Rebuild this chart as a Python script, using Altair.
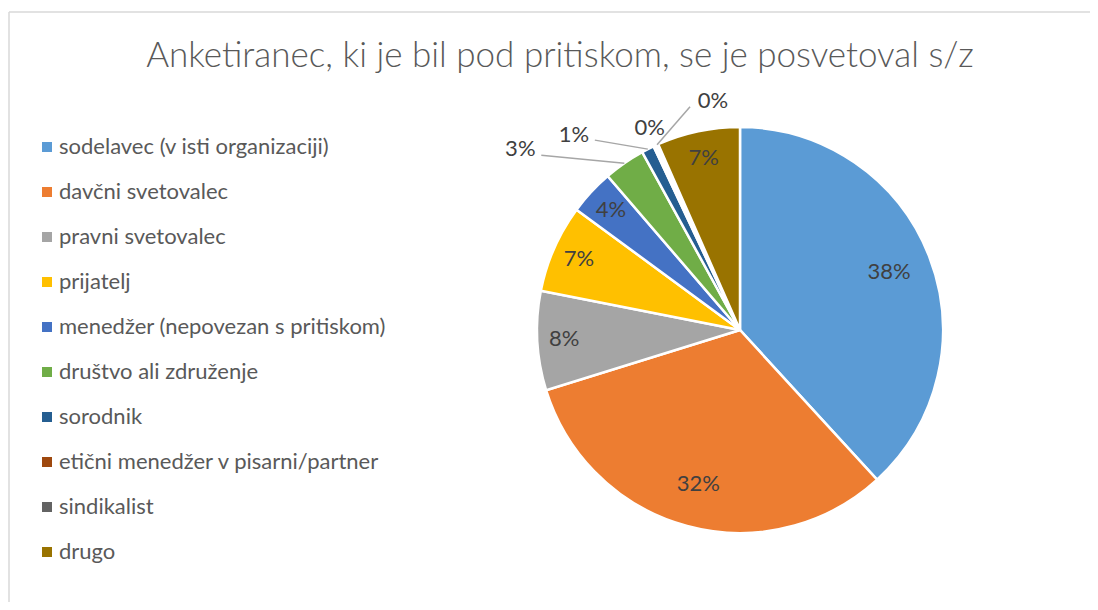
import altair as alt
import pandas as pd

# ---- data ----
categories = [
    "sodelavec (v isti organizaciji)",
    "davčni svetovalec",
    "pravni svetovalec",
    "prijatelj",
    "menedžer (nepovezan s pritiskom)",
    "društvo ali združenje",
    "sorodnik",
    "etični menedžer v pisarni/partner",
    "sindikalist",
    "drugo",
]
values = [38.2, 32.0, 7.9, 7.0, 3.6, 3.3, 1.0, 0.2, 0.2, 6.6]
colors = ["#5B9BD5", "#ED7D31", "#A5A5A5", "#FFC000", "#4472C4",
          "#70AD47", "#255E91", "#9E480E", "#636363", "#997300"]
title_text = "Anketiranec, ki je bil pod pritiskom, se je posvetoval s/z"

df = pd.DataFrame({"kategorija": categories, "vrednost": values,
                   "idx": list(range(len(categories)))})

FONT = "Lato"
W, H = 1081, 590
CX, CY, R = 731, 318, 203

base = (
    alt.Chart(df)
    .transform_joinaggregate(total="sum(vrednost)")
    .transform_window(cum="sum(vrednost)", sort=[alt.SortField("idx")], frame=[None, 0])
    .transform_calculate(share="datum.vrednost / datum.total")
    .transform_calculate(a1="2*PI*datum.cum/datum.total")
    .transform_calculate(a0="2*PI*(datum.cum - datum.vrednost)/datum.total")
    .transform_calculate(mid="(datum.a0 + datum.a1)/2")
    .transform_calculate(label="format(datum.share, '.0%')")
    .transform_calculate(outside="datum.share < 0.035")
    .transform_calculate(ex=f"{CX} + {R}*sin(datum.mid)")
    .transform_calculate(ey=f"{CY} - {R}*cos(datum.mid)")
    .transform_calculate(lr="datum.share >= 0.2 ? 160 : 176")
    .transform_calculate(ix=f"{CX} + datum.lr*sin(datum.mid)")
    .transform_calculate(iy=f"{CY} - datum.lr*cos(datum.mid)")
    .transform_calculate(
        ox="datum.ex + (datum.idx == 5 ? -104 : datum.idx == 6 ? -74 : datum.idx == 7 ? -5 : 56)")
    .transform_calculate(
        oy="datum.ey + (datum.idx == 5 ? -14 : datum.idx == 6 ? -14 : datum.idx == 7 ? -18 : -44)")
    .transform_calculate(
        sx="datum.ox + (datum.idx == 8 ? -23 : 21)")
    .transform_calculate(
        sy="datum.oy + (datum.idx == 6 ? 5 : 6)")
)

arcs = alt.Chart(df).mark_arc(radius=R, stroke="white", strokeWidth=2.5).encode(
    theta=alt.Theta("vrednost:Q", stack=True),
    order=alt.Order("idx:Q"),
    x=alt.value(CX),
    y=alt.value(CY),
    color=alt.Color(
        "kategorija:N",
        scale=alt.Scale(domain=categories, range=colors),
        legend=alt.Legend(
            title=None, orient="none", legendX=27, legendY=124,
            symbolType="square", symbolSize=100, symbolStrokeWidth=0,
            labelFontSize=22, labelFont=FONT, labelColor="#595959",
            rowPadding=23, labelOffset=1, labelLimit=500, padding=0,
        ),
    ),
)

inside = base.transform_filter("!datum.outside").mark_text(
    font=FONT, fontSize=22, color="#404040", align="center", baseline="middle"
).encode(
    x=alt.X("ix:Q", scale=None, axis=None),
    y=alt.Y("iy:Q", scale=None, axis=None),
    text="label:N",
)

outside = base.transform_filter("datum.outside").mark_text(
    font=FONT, fontSize=22, color="#404040", align="center", baseline="middle"
).encode(
    x=alt.X("ox:Q", scale=None, axis=None),
    y=alt.Y("oy:Q", scale=None, axis=None),
    text="label:N",
)

leaders = base.transform_filter("datum.outside && datum.idx != 7").mark_rule(
    color="#A6A6A6", strokeWidth=1.5
).encode(
    x=alt.X("sx:Q", scale=None, axis=None),
    y=alt.Y("sy:Q", scale=None, axis=None),
    x2="ex:Q",
    y2="ey:Q",
)

one = pd.DataFrame({"t": [title_text]})
frame_top = alt.Chart(one).mark_rule(color="#D9D9D9", strokeWidth=1.5).encode(
    x=alt.value(0), x2=alt.value(W + 5), y=alt.value(0))
frame_left = alt.Chart(one).mark_rule(color="#D9D9D9", strokeWidth=1.5).encode(
    x=alt.value(0), y=alt.value(0), y2=alt.value(H + 5))

title = alt.Chart(one).mark_text(
    font=FONT, fontSize=35, fontWeight=300, color="#595959",
    align="center", baseline="alphabetic"
).encode(x=alt.value(551), y=alt.value(55), text="t:N")

chart = alt.layer(frame_top, frame_left, arcs, leaders, inside, outside, title).properties(
    width=W, height=H,
    padding={"left": 1, "top": 4, "right": 0, "bottom": 0},
    autosize="none",
).configure_view(stroke=None)

chart.save("out.html", embed_options={"renderer": "svg", "actions": False})
